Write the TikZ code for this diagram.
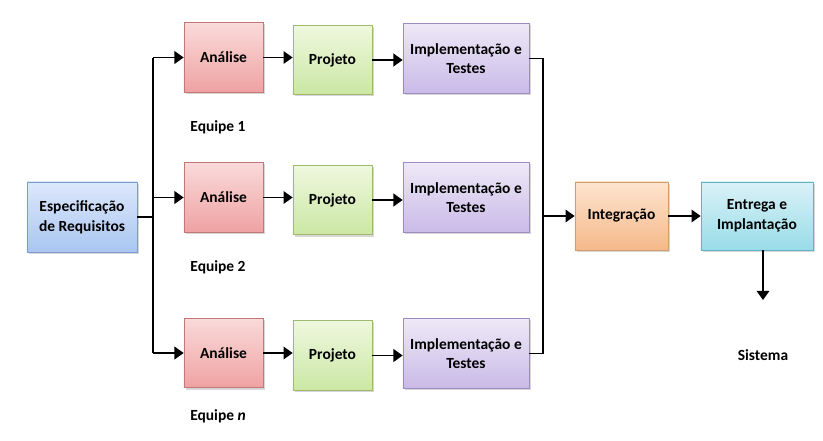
\documentclass[tikz,border=0pt]{standalone}
\usepackage{fontspec}
\setmainfont{Carlito}
\usetikzlibrary{arrows.meta,shadows}

\definecolor{espTop}{HTML}{DDE8FB}
\definecolor{espBot}{HTML}{A9C5F1}
\definecolor{espLine}{HTML}{7E9BD0}
\definecolor{anTop}{HTML}{FADADA}
\definecolor{anBot}{HTML}{EFA2A2}
\definecolor{anLine}{HTML}{C27878}
\definecolor{prTop}{HTML}{EEF8DE}
\definecolor{prBot}{HTML}{CBE7A4}
\definecolor{prLine}{HTML}{9FBA70}
\definecolor{imTop}{HTML}{EEE9F7}
\definecolor{imBot}{HTML}{C9BAE7}
\definecolor{imLine}{HTML}{9D8CC2}
\definecolor{inTop}{HTML}{FDE4CF}
\definecolor{inBot}{HTML}{F5B98A}
\definecolor{inLine}{HTML}{D29E70}
\definecolor{enTop}{HTML}{DAF2F7}
\definecolor{enBot}{HTML}{98DCE8}
\definecolor{enLine}{HTML}{62B2C2}

\begin{document}
\begin{tikzpicture}[x=0.025cm, y=-0.025cm,
    >={Triangle[length=6.5pt,width=9pt]},
    every node/.style={font=\fontsize{11}{14}\selectfont\bfseries},
    box/.style={draw, line width=0.5pt, align=center, inner sep=2pt,
      drop shadow={shadow xshift=1.2pt, shadow yshift=-1.2pt,
        fill=black!35, opacity=.45}},
    espbox/.style={box, draw=espLine, top color=espTop, bottom color=espBot,
      minimum width=2.75cm, minimum height=1.75cm},
    anbox/.style={box, draw=anLine, top color=anTop, bottom color=anBot,
      minimum width=1.975cm, minimum height=1.74cm},
    prbox/.style={box, draw=prLine, top color=prTop, bottom color=prBot,
      minimum width=1.975cm, minimum height=1.74cm},
    imbox/.style={box, draw=imLine, top color=imTop, bottom color=imBot,
      minimum width=3.15cm, minimum height=1.74cm},
    conn/.style={line width=1.1pt}]

  \useasboundingbox (0,0) rectangle (823,441);

  % Especificacao
  \node[espbox] (esp) at (82,217) {Especificação\\de Requisitos};

  % Equipe 1
  \node[anbox] (an1) at (223.5,57.5) {Análise};
  \node[prbox] (pr1) at (332.5,60) {Projeto};
  \node[imbox] (im1) at (466,58.5) {Implementação e\\Testes};
  \node (eq1) at (218,127) {Equipe 1};

  % Equipe 2
  \node[anbox] (an2) at (223.5,197.5) {Análise};
  \node[prbox] (pr2) at (332.5,200) {Projeto};
  \node[imbox] (im2) at (466,197.5) {Implementação e\\Testes};
  \node (eq2) at (218,267) {Equipe 2};

  % Equipe n
  \node[anbox] (an3) at (223.5,353) {Análise};
  \node[prbox] (pr3) at (332.5,355.5) {Projeto};
  \node[imbox] (im3) at (466,353.5) {Implementação e\\Testes};
  \node (eq3) at (218,416) {Equipe \textit{n}};

  % Integracao en entrega
  \node[box, draw=inLine, top color=inTop, bottom color=inBot,
    minimum width=2.325cm, minimum height=1.7cm] (int) at (621.5,216) {Integração};
  \node[box, draw=enLine, top color=enTop, bottom color=enBot,
    minimum width=2.8cm, minimum height=1.7cm] (ent) at (757,216) {Entrega e\\Implantação};
  \node (sis) at (763,355) {Sistema};

  % Hulppunten
  \coordinate (busL) at (153,217);
  \coordinate (busR) at (543,217);
  \coordinate (sisA) at (763,300);

  % Verdeling naar de equipes
  \draw[conn] (esp.east) -- (esp.east -| busL);
  \draw[conn] (an1.west -| busL) -- (an3.west -| busL);
  \draw[conn, ->] (an1.west -| busL) -- (an1.west);
  \draw[conn, ->] (an2.west -| busL) -- (an2.west);
  \draw[conn, ->] (an3.west -| busL) -- (an3.west);

  % Binnen de equipes
  \draw[conn, ->] (an1.east) -- (an1.east -| pr1.west);
  \draw[conn, ->] (pr1.east) -- (pr1.east -| im1.west);
  \draw[conn, ->] (an2.east) -- (an2.east -| pr2.west);
  \draw[conn, ->] (pr2.east) -- (pr2.east -| im2.west);
  \draw[conn, ->] (an3.east) -- (an3.east -| pr3.west);
  \draw[conn, ->] (pr3.east) -- (pr3.east -| im3.west);

  % Samenvoegen
  \draw[conn] (im1.east) -- (im1.east -| busR) -- (im3.east -| busR) -- (im3.east);
  \draw[conn, ->] (int.west -| busR) -- (int.west);
  \draw[conn, ->] (int.east) -- (int.east -| ent.west);
  \draw[conn, ->] (ent.south -| sisA) -- (sisA);

\end{tikzpicture}
\end{document}
